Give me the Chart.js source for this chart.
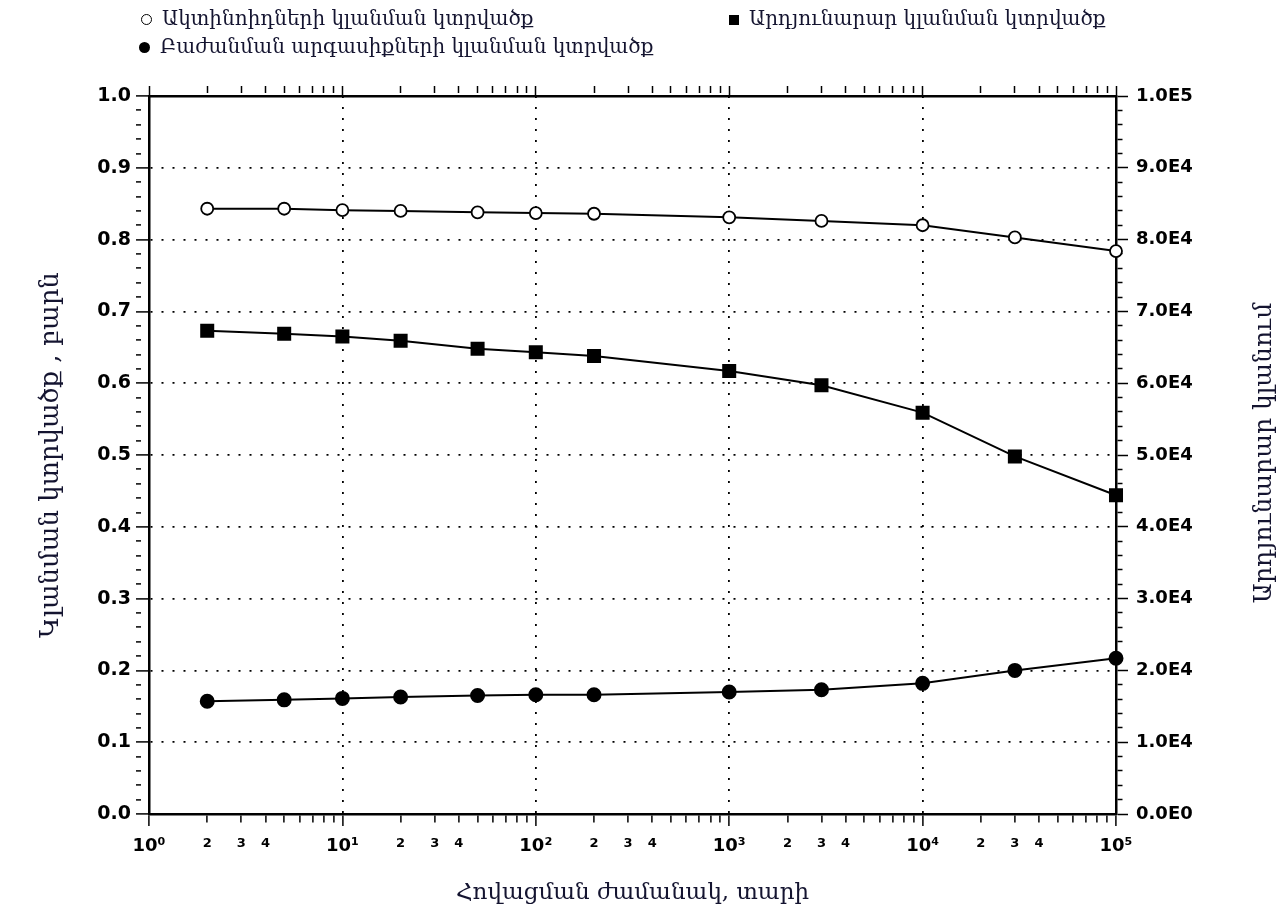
<!DOCTYPE html>
<html>
<head>
<meta charset="utf-8">
<script src="https://cdn.jsdelivr.net/npm/chart.js@4"></script>
<style>
    body { margin: 0; background: #fff; }
    #wrap { position: relative; width: 1283px; height: 924px; }
    #legend { position: absolute; left: 0; top: 0; font-family: "DejaVu Serif", serif; font-size: 20px; color: #141430; }
    .item { position: absolute; white-space: nowrap; line-height: 24px; }
    .mk { display: inline-block; vertical-align: middle; margin-right: 10px; box-sizing: border-box; }
</style>
</head>
<body>
<div id="wrap">
    <canvas id="myChart" width="1283" height="924"></canvas>
    <div id="legend"></div>
</div>
<script>
const years = [2, 5, 10, 20, 50, 100, 200, 1000, 3000, 10000, 30000, 100000];
const actinideSection = [0.843, 0.843, 0.841, 0.840, 0.838, 0.837, 0.836, 0.831, 0.826, 0.820, 0.803, 0.784];
const totalAbsorption = [67300, 66900, 66500, 65900, 64800, 64300, 63800, 61700, 59700, 55900, 49800, 44400];
const fissionSection = [0.157, 0.159, 0.161, 0.163, 0.165, 0.166, 0.166, 0.170, 0.173, 0.182, 0.200, 0.217];

const seriesNames = ["Ակտինոիդների կլանման կտրվածք", "Արդյունարար կլանման կտրվածք", "Բաժանման արգասիքների կլանման կտրվածք"];
const leftTickLabels = ["0.0", "0.1", "0.2", "0.3", "0.4", "0.5", "0.6", "0.7", "0.8", "0.9", "1.0"];
const rightTickLabels = ["0.0E0", "1.0E4", "2.0E4", "3.0E4", "4.0E4", "5.0E4", "6.0E4", "7.0E4", "8.0E4", "9.0E4", "1.0E5"];
const decadeLabels = ["10⁰", "10¹", "10²", "10³", "10⁴", "10⁵"];
const minorLabels = ["2", "3", "4"];

const xTitle = "Հովացման ժամանակ, տարի";
const yTitle = "Կլանման կտրվածք , բարն";
const y1Title = "Արդյունարար կլանում";

const ink = "#141430";

function logTicks(scale) {
    const t = [];
    for (let k = 0; k < 5; k++) {
        for (let m = 1; m < 10; m++) t.push({ value: m * Math.pow(10, k) });
    }
    t.push({ value: 100000 });
    scale.ticks = t;
}

function splitLog(value) {
    const e = Math.floor(Math.log10(value) + 1e-9);
    const m = Math.round(value / Math.pow(10, e));
    return { e, m };
}

function fiftyTicks(max) {
    return scale => {
        scale.ticks = Array.from({ length: 51 }, (_, i) => ({ value: i * max / 50 }));
    };
}

const toPoints = arr => years.map((x, i) => ({ x: x, y: arr[i] }));

const info = {
    datasets: [
        {
            label: seriesNames[0],
            data: toPoints(actinideSection),
            yAxisID: "y",
            borderColor: "#000",
            borderWidth: 2,
            pointStyle: "circle",
            pointRadius: 6,
            pointBorderWidth: 1.8,
            pointBackgroundColor: "#fff",
            pointBorderColor: "#000",
            clip: false,
        },
        {
            label: seriesNames[1],
            data: toPoints(totalAbsorption),
            yAxisID: "y1",
            borderColor: "#000",
            borderWidth: 2,
            pointStyle: "rect",
            pointRadius: 8.5,
            pointBackgroundColor: "#000",
            pointBorderColor: "#000",
            clip: false,
        },
        {
            label: seriesNames[2],
            data: toPoints(fissionSection),
            yAxisID: "y",
            borderColor: "#000",
            borderWidth: 2,
            pointStyle: "circle",
            pointRadius: 6.5,
            pointBackgroundColor: "#000",
            pointBorderColor: "#000",
            clip: false,
        }
    ]
};

// right title reads bottom-to-top, chart.js would turn it the other way
const rightTitle = {
    id: "rightTitle",
    afterDraw(chart) {
        const ctx = chart.ctx;
        const a = chart.chartArea;
        ctx.save();
        ctx.translate(1264, (a.top + a.bottom) / 2 - 2);
        ctx.rotate(-Math.PI / 2);
        ctx.font = "25px 'DejaVu Serif'";
        ctx.fillStyle = ink;
        ctx.textAlign = "center";
        ctx.textBaseline = "middle";
        ctx.fillText(y1Title, 0, 0);
        ctx.restore();
    }
};

const dotted = [2, 9];
const isDecadeInside = v => [10, 100, 1000, 10000].includes(v);

const config = {
    type: "line",
    data: info,
    options: {
        responsive: false,
        animation: false,
        devicePixelRatio: 1,
        layout: { padding: 0 },
        scales: {
            x: {
                type: "logarithmic",
                position: "bottom",
                min: 1,
                max: 100000,
                afterBuildTicks: logTicks,
                afterFit: s => { s.height = 110; },
                ticks: {
                    autoSkip: false,
                    maxRotation: 0,
                    padding: 10,
                    color: "#000",
                    font: c => {
                        const v = c.tick ? c.tick.value : 1;
                        return { family: "DejaVu Sans", weight: "bold", size: splitLog(v).m === 1 ? 18 : 13 };
                    },
                    callback: value => {
                        const p = splitLog(value);
                        if (p.m === 1) return decadeLabels[p.e];
                        if (p.m <= 4) return minorLabels[p.m - 2];
                        return "";
                    }
                },
                grid: {
                    color: c => (c.tick && isDecadeInside(c.tick.value)) ? "#000" : "rgba(0,0,0,0)",
                    lineWidth: 1.8,
                    tickColor: "#000",
                    tickWidth: 1.5,
                    tickLength: 12,
                    tickBorderDash: c => (c.tick && splitLog(c.tick.value).m === 1) ? [] : [7, 40],
                },
                border: { color: "#000", width: 2.5, dash: dotted },
                title: {
                    display: true,
                    text: xTitle,
                    color: ink,
                    font: { family: "DejaVu Serif", size: 23 },
                    padding: { top: 0, bottom: 17 },
                }
            },
            x2: {
                type: "logarithmic",
                position: "top",
                min: 1,
                max: 100000,
                afterBuildTicks: logTicks,
                afterFit: s => { s.height = 96; },
                ticks: { display: false, autoSkip: false },
                grid: {
                    drawOnChartArea: false,
                    tickColor: "#000",
                    tickWidth: 1.5,
                    tickLength: 10,
                    tickBorderDash: c => (c.tick && splitLog(c.tick.value).m === 1) ? [] : [7, 40],
                },
                border: { color: "#000", width: 2.5 }
            },
            y: {
                type: "linear",
                position: "left",
                min: 0,
                max: 1,
                afterBuildTicks: fiftyTicks(1),
                afterFit: s => { s.width = 149; },
                ticks: {
                    autoSkip: false,
                    padding: 5,
                    color: "#000",
                    font: { family: "DejaVu Sans", weight: "bold", size: 19 },
                    callback: (value, index) => index % 5 === 0 ? leftTickLabels[index / 5] : ""
                },
                grid: {
                    color: c => (c.index % 5 === 0 && c.index > 0 && c.index < 50) ? "#000" : "rgba(0,0,0,0)",
                    lineWidth: 1.8,
                    tickColor: "#000",
                    tickWidth: 1.5,
                    tickLength: 13,
                    tickBorderDash: c => c.index % 5 === 0 ? [] : [5, 40],
                },
                border: { color: "#000", width: 2.5, dash: dotted },
                title: {
                    display: true,
                    text: yTitle,
                    color: ink,
                    font: { family: "DejaVu Serif", size: 26 },
                    padding: { top: 36, bottom: 0 },
                }
            },
            y1: {
                type: "linear",
                position: "right",
                min: 0,
                max: 100000,
                afterBuildTicks: fiftyTicks(100000),
                afterFit: s => { s.width = 167; },
                ticks: {
                    autoSkip: false,
                    padding: 8,
                    color: "#000",
                    font: { family: "DejaVu Sans", weight: "bold", size: 18 },
                    callback: (value, index) => index % 5 === 0 ? rightTickLabels[index / 5] : ""
                },
                grid: {
                    drawOnChartArea: false,
                    tickColor: "#000",
                    tickWidth: 1.5,
                    tickLength: 12,
                    tickBorderDash: c => c.index % 5 === 0 ? [] : [5, 40],
                },
                border: { color: "#000", width: 2.5 }
            }
        },
        plugins: {
            legend: { display: false },
            tooltip: { enabled: false }
        }
    },
    plugins: [rightTitle]
};

let expensesChart = new Chart("myChart", config);

// legend laid out like the scan: two items on the first row, one below
const legendPlaces = [
    { left: 141, top: 6, mark: "open" },
    { left: 729, top: 6, mark: "square" },
    { left: 139, top: 34, mark: "dot" }
];
const legendEl = document.getElementById("legend");
legendPlaces.forEach((p, i) => {
    const item = document.createElement("div");
    item.className = "item";
    item.style.left = p.left + "px";
    item.style.top = p.top + "px";
    const mk = document.createElement("span");
    mk.className = "mk";
    if (p.mark === "open") {
        mk.style.cssText = "width:11px;height:11px;border:1.5px solid #000;border-radius:50%;";
    } else if (p.mark === "square") {
        mk.style.cssText = "width:10px;height:10px;background:#000;";
    } else {
        mk.style.cssText = "width:11px;height:11px;background:#000;border-radius:50%;";
    }
    item.appendChild(mk);
    item.appendChild(document.createTextNode(expensesChart.data.datasets[i].label));
    legendEl.appendChild(item);
});
</script>
</body>
</html>
